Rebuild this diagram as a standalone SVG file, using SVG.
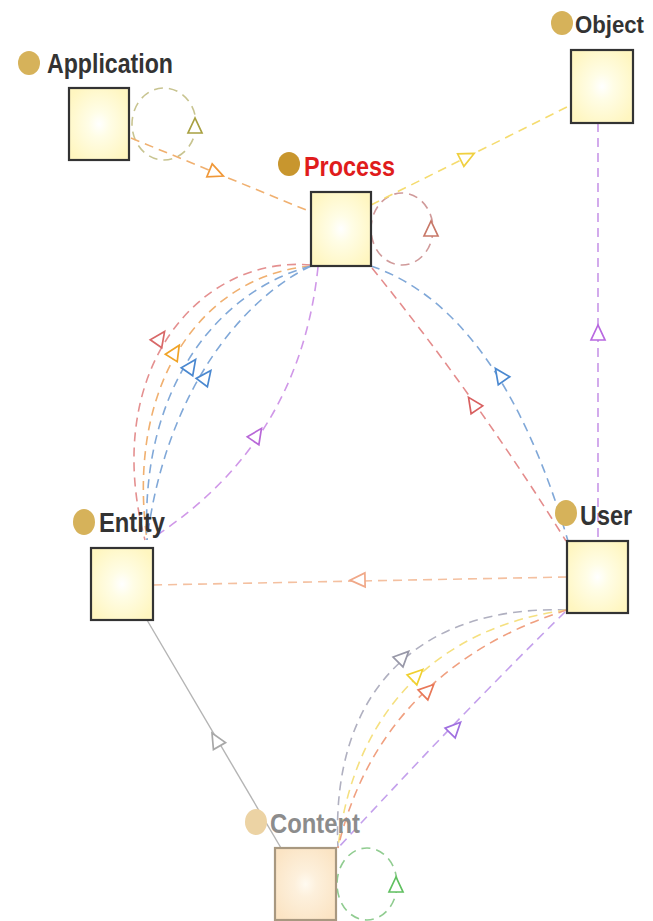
<svg xmlns="http://www.w3.org/2000/svg" width="653" height="921" viewBox="0 0 653 921">
<defs>
<radialGradient id="boxfill" cx="0.5" cy="0.5" r="0.6">
<stop offset="0" stop-color="#ffffff"/>
<stop offset="0.3" stop-color="#fffde6"/>
<stop offset="1" stop-color="#fff6c0"/>
</radialGradient>
<radialGradient id="boxfill2" cx="0.5" cy="0.5" r="0.6">
<stop offset="0" stop-color="#fffaf0"/>
<stop offset="0.3" stop-color="#fdf0dc"/>
<stop offset="1" stop-color="#fbe4c4"/>
</radialGradient>
<path id="tri" d="M8,0 L-7,-7 L-7,7 Z"/>
</defs>
<style>
.box{fill:url(#boxfill);stroke:#333;stroke-width:2.2}
.box2{fill:url(#boxfill2);stroke:#a89880;stroke-width:2.2}
.lbl{font-family:"Liberation Sans",Arial,sans-serif;font-weight:bold;font-size:27px;fill:#333}
.dot{fill:#d6b25a}
.e{fill:none;stroke-width:1.6;stroke-dasharray:9 6}
.s{fill:none;stroke-width:1.4}
.a{fill:#fff;stroke-width:1.7}
</style>
<rect width="653" height="921" fill="#fff"/>
<g id="connectors">
<!-- Application self loop -->
<ellipse class="e" cx="164" cy="124" rx="32" ry="36" stroke="#c8c490"/>
<use href="#tri" class="a" stroke="#a8a040" transform="translate(195,126) rotate(-90)"/>
<!-- Application -> Process -->
<line class="e" x1="131" y1="138" x2="311" y2="212" stroke="#f0b070"/>
<use href="#tri" class="a" stroke="#f09838" transform="translate(216,173) rotate(22.5)"/>
<!-- Process self loop -->
<ellipse class="e" cx="402" cy="229" rx="31" ry="36" stroke="#d09a9a"/>
<use href="#tri" class="a" stroke="#c87868" transform="translate(431,229) rotate(-90)"/>
<!-- Process - Object -->
<line class="e" x1="371" y1="205" x2="571" y2="105" stroke="#f5dc70"/>
<use href="#tri" class="a" stroke="#f0d040" transform="translate(467,157) rotate(-26.6)"/>
<!-- User - Object -->
<line class="e" x1="598" y1="123" x2="598" y2="541" stroke="#c896e8"/>
<use href="#tri" class="a" stroke="#b868e0" transform="translate(598,333) rotate(-90)"/>
<!-- Entity - Process curves -->
<path class="e" d="M311,265 C200,255 100,370 145,540" stroke="#e49090"/>
<path class="e" d="M311,266 C205,275 125,380 147,540" stroke="#f0b070"/>
<path class="e" d="M311,266 C220,290 140,385 147,540" stroke="#80a8d8"/>
<path class="e" d="M311,266 C240,300 165,395 147,540" stroke="#80a8d8"/>
<path class="e" d="M318,267 Q300,440 157,535" stroke="#d098e8"/>
<use href="#tri" class="a" stroke="#d86868" transform="translate(160,338) rotate(-55)"/>
<use href="#tri" class="a" stroke="#f0a428" transform="translate(175,352) rotate(-58)"/>
<use href="#tri" class="a" stroke="#4a88d0" transform="translate(191,366) rotate(-55)"/>
<use href="#tri" class="a" stroke="#4a88d0" transform="translate(206,377) rotate(-53)"/>
<use href="#tri" class="a" stroke="#b868d8" transform="translate(257,435) rotate(-56)"/>
<!-- User - Process -->
<path class="e" d="M371,266 Q500,310 568,541" stroke="#80a8d8"/>
<path class="e" d="M372,268 Q475,395 566,541" stroke="#e48c8c"/>
<use href="#tri" class="a" stroke="#4a88d0" transform="translate(500,375) rotate(-125)"/>
<use href="#tri" class="a" stroke="#d86060" transform="translate(473,404) rotate(-124)"/>
<!-- User - Entity -->
<line class="e" x1="567" y1="577" x2="153" y2="585" stroke="#f4c0a0"/>
<use href="#tri" class="a" stroke="#f0a888" transform="translate(358,580) rotate(179)"/>
<!-- Entity - Content -->
<line class="s" x1="147" y1="620" x2="281" y2="848" stroke="#b4b4b4"/>
<use href="#tri" class="a" stroke="#a8a8a8" transform="translate(216,740) rotate(-120)"/>
<!-- User - Content curves -->
<path class="e" d="M567,610 C420,605 330,690 338,848" stroke="#b0b0c0"/>
<path class="e" d="M567,610 C450,625 355,700 338,848" stroke="#f5e080"/>
<path class="e" d="M567,610 C470,640 370,710 338,848" stroke="#f0a080"/>
<path class="e" d="M565,612 Q465,710 338,848" stroke="#c4a0ec"/>
<use href="#tri" class="a" stroke="#9898a8" transform="translate(403,657) rotate(-45)"/>
<use href="#tri" class="a" stroke="#f0d030" transform="translate(417,675) rotate(-44)"/>
<use href="#tri" class="a" stroke="#e87858" transform="translate(428,690) rotate(-44)"/>
<use href="#tri" class="a" stroke="#a070e0" transform="translate(455,728) rotate(-46)"/>
<!-- Content self loop -->
<ellipse class="e" cx="367" cy="884" rx="30" ry="36" stroke="#90cc90"/>
<use href="#tri" class="a" stroke="#60c060" transform="translate(396,885) rotate(-90)"/>
</g>
<g id="node-application">
<rect class="box" x="69" y="88" width="60" height="72"/>
<ellipse class="dot" cx="29" cy="63" rx="11" ry="12"/>
<text class="lbl" x="47" y="73" textLength="126" lengthAdjust="spacingAndGlyphs">Application</text>
</g>
<g id="node-process">
<rect class="box" x="311" y="192" width="60" height="74"/>
<ellipse cx="289" cy="164" rx="11" ry="12" fill="#c8962e"/>
<text class="lbl" x="304" y="176" textLength="91" lengthAdjust="spacingAndGlyphs" style="fill:#e01c1c">Process</text>
</g>
<g id="node-object">
<rect class="box" x="571" y="50" width="62" height="73"/>
<ellipse class="dot" cx="562" cy="23" rx="11" ry="12"/>
<text class="lbl" x="575" y="33" textLength="69" lengthAdjust="spacingAndGlyphs" style="font-size:24px">Object</text>
</g>
<g id="node-entity">
<rect class="box" x="91" y="548" width="62" height="72"/>
<ellipse class="dot" cx="84" cy="522" rx="11" ry="13"/>
<text class="lbl" x="99" y="532" textLength="66" lengthAdjust="spacingAndGlyphs">Entity</text>
</g>
<g id="node-user">
<rect class="box" x="567" y="541" width="61" height="72"/>
<ellipse class="dot" cx="566" cy="513" rx="11" ry="13"/>
<text class="lbl" x="580" y="525" textLength="52" lengthAdjust="spacingAndGlyphs">User</text>
</g>
<g id="node-content">
<rect class="box2" x="275" y="848" width="61" height="72"/>
<ellipse cx="256" cy="822" rx="11" ry="13" fill="#ecd3a4"/>
<text class="lbl" x="270" y="833" textLength="90" lengthAdjust="spacingAndGlyphs" style="fill:#8c8c8c">Content</text>
</g>
</svg>
